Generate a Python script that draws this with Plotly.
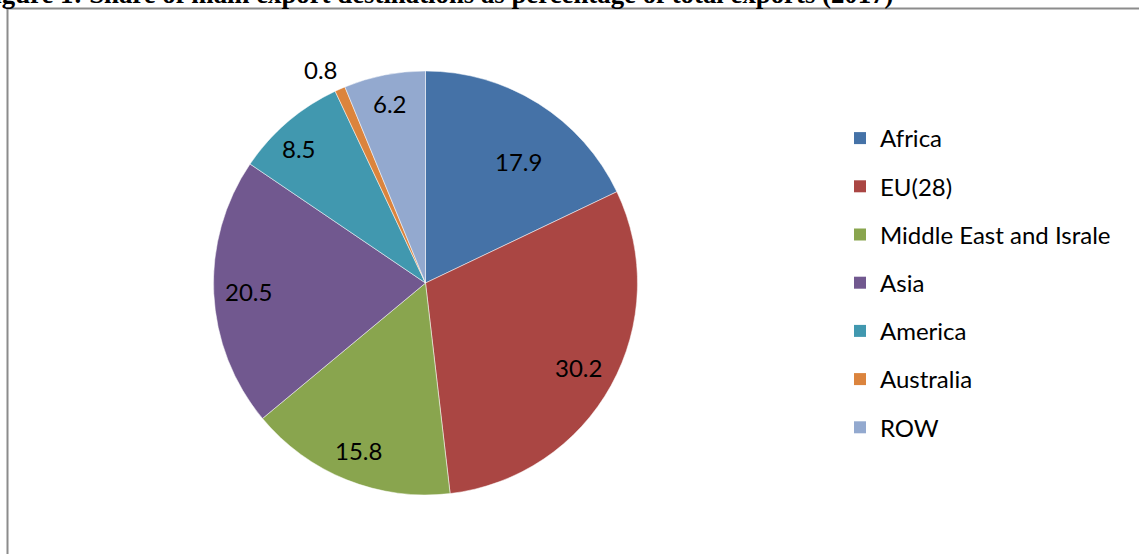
import math
import plotly.graph_objects as go

regions = ["Africa", "EU(28)", "Middle East and Israle", "Asia", "America", "Australia", "ROW"]
shares = [17.9, 30.2, 15.8, 20.5, 8.5, 0.8, 6.2]
colors = ["#4572A7", "#AA4643", "#89A54E", "#71588F", "#4198AF", "#DB843D", "#93A9CF"]
title = "Figure 1: Share of main export destinations as percentage of total exports (2017)"

# label placement (fraction of radius and angular nudge in degrees, Excel best-fit style)
label_radius = [0.72, 0.82, 0.85, 0.835, 0.87, 1.12, 0.86]
label_nudge = [5, 0, 0, 0, -2.8, -2.3, 0]

W, H = 1139, 554
FONT = "Lato"
PX0, PX1, PY0, PY1 = 213, 638, 71, 495  # pie domain in pixels

fig = go.Figure()
fig.add_trace(go.Pie(
    labels=regions, values=shares, sort=False, direction="clockwise", rotation=0,
    marker=dict(colors=colors, line=dict(color="white", width=0.5)),
    textinfo="none", showlegend=False, hoverinfo="label+value",
    domain=dict(x=[PX0 / W, PX1 / W], y=[1 - PY1 / H, 1 - PY0 / H]),
))
for i, (r, c) in enumerate(zip(regions, colors)):
    fig.add_trace(go.Scatter(
        x=[None], y=[None], mode="markers", name=r, legendgroup=f"g{i}",
        marker=dict(symbol="square", size=11, color=c),
    ))

# data labels placed at slice mid-angles derived from the values
cx, cy = (PX0 + PX1) / 2, (PY0 + PY1) / 2
R = (PX1 - PX0) / 2
total = sum(shares)
cum = 0.0
for v, f, nd in zip(shares, label_radius, label_nudge):
    mid = (cum + v / 2) / total * 2 * math.pi + math.radians(nd)
    cum += v
    px = cx + f * R * math.sin(mid)
    py = cy - f * R * math.cos(mid)
    fig.add_annotation(text=f"{v}", xref="paper", yref="paper", x=px / W, y=1 - py / H,
                       xanchor="center", yanchor="middle", showarrow=False,
                       font=dict(family=FONT, size=24, color="black"))

fig.add_shape(type="line", xref="paper", yref="paper",
              x0=7.5 / W, x1=7.5 / W, y0=-0.05, y1=1 - 8 / H,
              line=dict(color="#8c8c8c", width=2))
fig.add_shape(type="line", xref="paper", yref="paper",
              x0=6.5 / W, x1=1.05, y0=1 - 8.5 / H, y1=1 - 8.5 / H,
              line=dict(color="#8c8c8c", width=2))
fig.add_annotation(text="<b>" + title + "</b>", xref="paper", yref="paper",
                   x=-24 / W, xanchor="left", y=1 - 10.5 / H, yanchor="bottom",
                   showarrow=False, font=dict(family="Liberation Serif", size=26.8, color="black"))

fig.update_layout(
    width=W, height=H, margin=dict(l=0, r=0, t=0, b=0),
    paper_bgcolor="white", plot_bgcolor="white",
    xaxis=dict(visible=False), yaxis=dict(visible=False),
    legend=dict(x=840 / W, xanchor="left", y=1 - 116 / H, yanchor="top",
                font=dict(family=FONT, size=24, color="black"),
                tracegroupgap=14, itemsizing="constant", bgcolor="rgba(0,0,0,0)"),
)
fig.write_html("out.html")
